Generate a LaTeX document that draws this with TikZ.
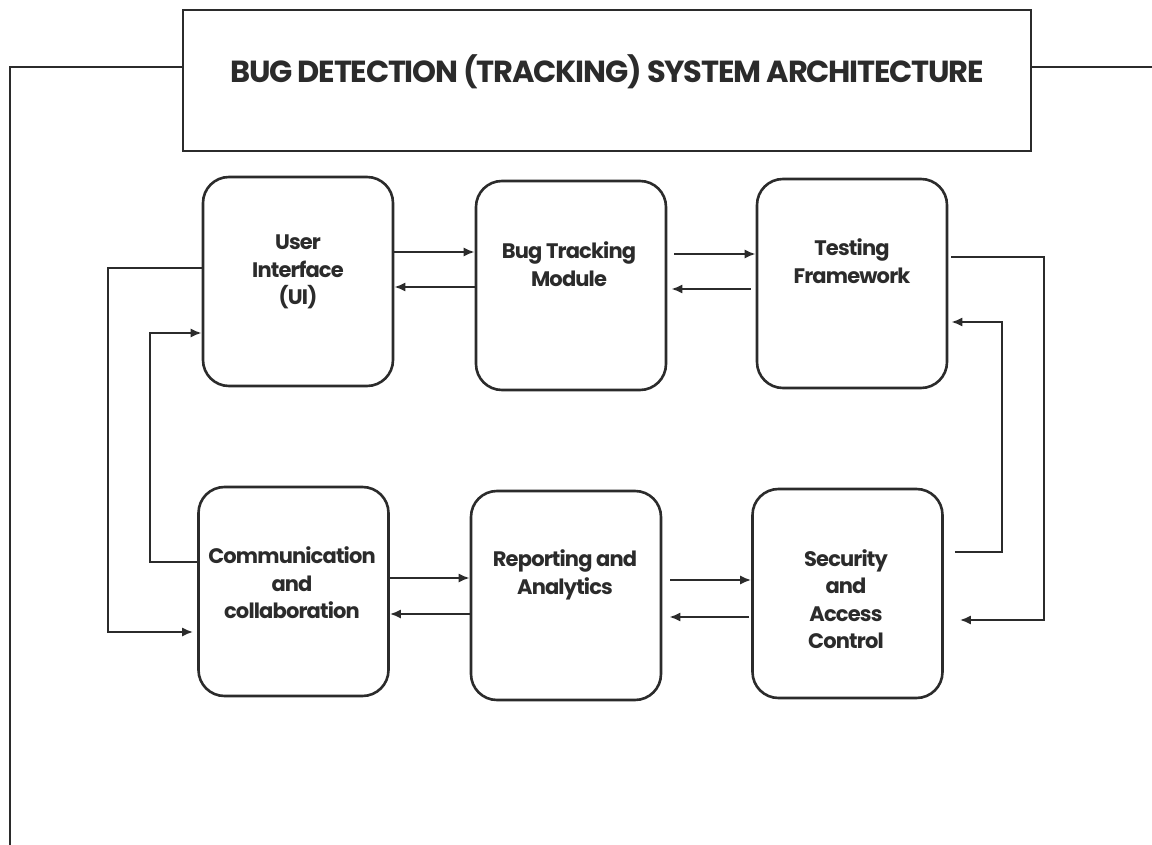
\documentclass[tikz,border=0pt]{standalone}
\usepackage{fontspec}
\setmainfont{Poppins}
\newfontfamily\boxfont{Poppins Bold}[LetterSpace=-4]
\newfontfamily\titlefont{Poppins Bold}[LetterSpace=-4]
\usetikzlibrary{arrows.meta}
\definecolor{ink}{HTML}{2B2B2B}
\begin{document}
\begin{tikzpicture}[x=1pt,y=-1pt,
  box/.style={draw=ink,line width=2.6pt,rounded corners=26pt,minimum width=190pt,minimum height=209pt,inner sep=0pt},
  lbl/.style={font=\boxfont\fontsize{21}{27.5}\selectfont,text=ink,align=center,inner sep=0pt},
  conn/.style={draw=ink,line width=2pt},
  arr/.style={conn,-{Latex[length=11pt,width=9pt]}}]
\useasboundingbox (0,0) rectangle (1152,845);
\fill[white] (0,0) rectangle (1152,845);
% title
\node[draw=ink,line width=2.6pt,minimum width=848pt,minimum height=141pt,inner sep=0pt] (title) at (607,80.5) {};
\node[font=\titlefont\fontsize{30.5}{32}\selectfont,text=ink,inner sep=0pt] (titletext) at (607,72) {BUG DETECTION (TRACKING) SYSTEM ARCHITECTURE};
\coordinate (tl) at (10,67);
\coordinate (tlb) at (10,846);
\coordinate (tr) at (1153,67);
\draw[conn,line width=2.4pt] (title.west |- tl) -- (tl) -- (tlb);
\draw[conn,line width=2.4pt] (title.east |- tr) -- (tr);
% boxes
\node[box] (ui) at (298,281.5) {};
\node[box] (btm) at (571,285.5) {};
\node[box] (tf) at (852,283.5) {};
\node[box] (cc) at (293.5,591.5) {};
\node[box] (ra) at (566,595.5) {};
\node[box] (sac) at (847.5,593.5) {};
% labels
\node[lbl] (uit) at (298,272) {User\\Interface\\(UI)};
\node[lbl] (btmt) at (569,264) {Bug Tracking\\Module};
\node[lbl] (tft) at (852,261) {Testing\\Framework};
\node[lbl] (cct) at (292,583) {Communication\\and\\collaboration};
\node[lbl] (rat) at (565,575) {Reporting and\\Analytics};
\node[lbl] (sact) at (846,599) {Security\\and\\Access\\Control};
% horizontal arrows
\draw[arr] (ui.east |- 0,252) -- (btm.west |- 0,252);
\draw[arr] (btm.west |- 0,287) -- (ui.east |- 0,287);
\draw[arr] ([xshift=7pt]btm.east |- 0,254) -- (tf.west |- 0,254);
\draw[arr] ([xshift=-5pt]tf.west |- 0,289) -- ([xshift=4pt]btm.east |- 0,289);
\draw[arr] (cc.east |- 0,578) -- (ra.west |- 0,578);
\draw[arr] (ra.west |- 0,614) -- (cc.east |- 0,614);
\draw[arr] ([xshift=8pt]ra.east |- 0,580) -- (sac.west |- 0,580);
\draw[arr] ([xshift=-2pt]sac.west |- 0,617) -- ([xshift=7pt]ra.east |- 0,617);
% left loops
\draw[arr] (ui.west |- 0,268) -- (108,268) -- (108,632) -- ([xshift=-4pt]cc.west |- 0,632);
\draw[arr] (cc.west |- 0,562) -- (150,562) -- (150,333) -- (ui.west |- 0,333);
% right loops
\draw[arr] ([xshift=3pt]tf.east |- 0,257) -- (1044,257) -- (1044,620) -- ([xshift=16pt]sac.east |- 0,620);
\draw[arr] ([xshift=11pt]sac.east |- 0,552) -- (1002,552) -- (1002,322) -- ([xshift=3pt]tf.east |- 0,322);
\end{tikzpicture}
\end{document}
